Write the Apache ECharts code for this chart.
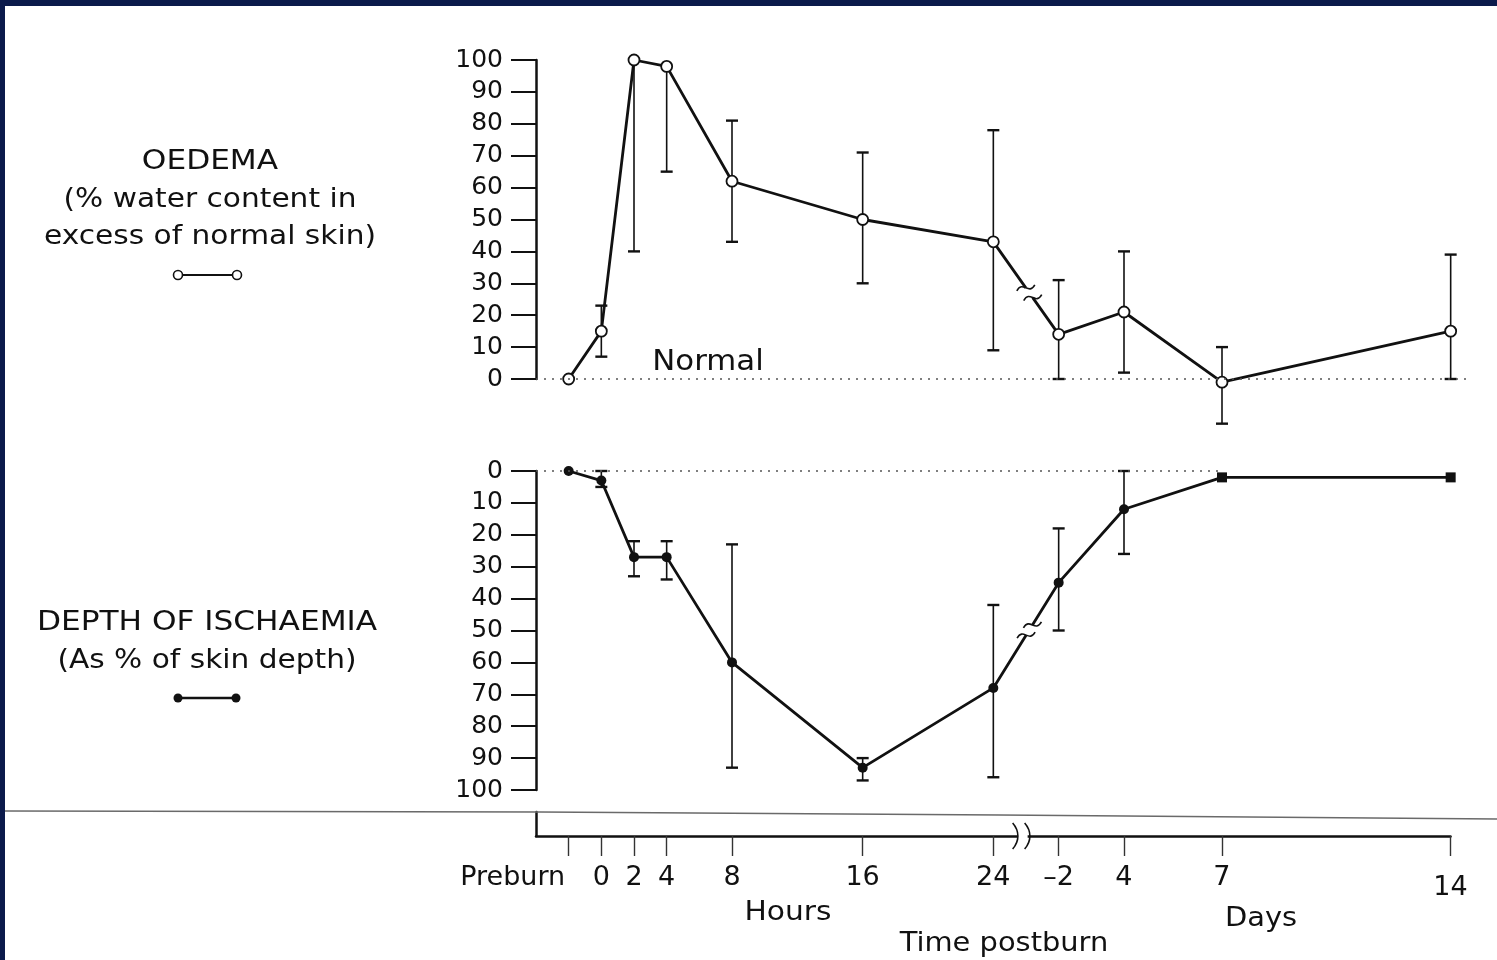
<!DOCTYPE html>
<html>
<head>
<meta charset="utf-8">
<title>Oedema and depth of ischaemia after burn</title>
<script src="https://cdn.jsdelivr.net/npm/echarts/dist/echarts.min.js"></script>
<style>
  html, body { margin: 0; padding: 0; background: #ffffff; }
  #chart { width: 1497px; height: 960px; }
  .frame-left { position: absolute; left: 0; top: 0; width: 5px; height: 960px; background: #0b1a4b; }
  .frame-top { position: absolute; left: 0; top: 0; width: 1497px; height: 6px; background: #0b1a4b; }
</style>
</head>
<body>
<div id="chart"></div>
<div class="frame-left"></div>
<div class="frame-top"></div>
<script>
// Sampling times: hours after the burn (Preburn drawn at -2 h), then days.
const HOURS = [-2, 0, 2, 4, 8, 16, 24];
const DAYS = [2, 4, 7, 14];
const TIME_LABELS = ['Preburn', '0', '2', '4', '8', '16', '24', '–2', '4', '7', '14'];

// Oedema: % water content in excess of normal skin (mean and range)
const OEDEMA_MEAN = [0, 15, 100, 98, 62, 50, 43, 14, 21, -1, 15];
const OEDEMA_LOW  = [null, 7, 40, 65, 43, 30, 9, 0, 2, -14, 0];
const OEDEMA_HIGH = [null, 23, 100, 98, 81, 71, 78, 31, 40, 10, 39];

// Depth of ischaemia as % of skin depth (mean and range)
const ISCH_MEAN = [0, 3, 27, 27, 60, 93, 68, 35, 12, 2, 2];
const ISCH_LOW  = [null, 0, 22, 22, 23, 90, 42, 18, 0, null, null];
const ISCH_HIGH = [null, 5, 33, 34, 93, 97, 96, 50, 26, null, null];

// Broken time axis: the day section continues after the 24 h mark
const DAY_OFFSET = 24;
const DAY_SCALE = 2;
const TIME_POS = HOURS.concat(DAYS.map(d => DAY_OFFSET + DAY_SCALE * d));

const INK = '#111111';
const FONT = 'DejaVu Sans';

const oedemaData = TIME_POS.map((t, i) => [t, OEDEMA_MEAN[i]]);
const ischData = TIME_POS.map((t, i) => {
  const item = { value: [t, ISCH_MEAN[i]] };
  if (ISCH_LOW[i] === null && i > 0) { item.symbol = 'rect'; item.symbolSize = 10; }
  return item;
});
function barData(low, high, mean) {
  const out = [];
  TIME_POS.forEach((t, i) => {
    if (low[i] !== null) out.push([t, low[i], high[i], mean[i]]);
  });
  return out;
}

function renderErrorBar(params, api) {
  const x = api.value(0), lo = api.value(1), hi = api.value(2), m = api.value(3);
  const pLo = api.coord([x, lo]);
  const pHi = api.coord([x, hi]);
  const children = [{
    type: 'line',
    shape: { x1: pLo[0], y1: pLo[1], x2: pHi[0], y2: pHi[1] },
    style: { stroke: INK, lineWidth: 1.6 }
  }];
  const half = 6;
  [[lo, pLo], [hi, pHi]].forEach(([v, p]) => {
    if (v !== m) {
      children.push({
        type: 'line',
        shape: { x1: p[0] - half, y1: p[1], x2: p[0] + half, y2: p[1] },
        style: { stroke: INK, lineWidth: 2.4 }
      });
    }
  });
  return { type: 'group', children };
}

const yAxisCommon = {
  min: 0, max: 100, interval: 10,
  axisLine: { show: true, onZero: false, lineStyle: { color: INK, width: 2.5 } },
  axisTick: { show: true, length: 25, lineStyle: { color: INK, width: 2 } },
  axisLabel: { margin: 33, fontSize: 25, color: INK, fontFamily: FONT },
  splitLine: { show: false }
};

const option = {
  animation: false,
  backgroundColor: '#ffffff',
  textStyle: { fontFamily: FONT },
  grid: [
    { left: 536, top: 60, width: 931, height: 319 },
    { left: 536, top: 471, width: 931, height: 319 },
    { left: 536, top: 812, width: 914.5, height: 24 }
  ],
  xAxis: [
    { gridIndex: 0, type: 'value', min: -4, max: 53, show: false },
    { gridIndex: 1, type: 'value', min: -4, max: 53, show: false },
    {
      gridIndex: 2, type: 'value', min: -4, max: 52, position: 'bottom',
      axisLine: { show: true, onZero: false, lineStyle: { color: INK, width: 2.5 } },
      axisTick: { show: true, customValues: TIME_POS, length: 20, lineStyle: { color: '#333', width: 1.4 } },
      axisLabel: {
        show: true, customValues: TIME_POS, margin: 28, fontSize: 27, color: INK, fontFamily: FONT,
        formatter: function (v) {
          const i = TIME_POS.indexOf(v);
          if (i < 0) return '';
          if (i === 0) return '{pre|' + TIME_LABELS[i] + '}';
          if (i === TIME_POS.length - 1) return '{low|' + TIME_LABELS[i] + '}';
          return TIME_LABELS[i];
        },
        rich: {
          pre: { fontSize: 27, fontFamily: FONT, color: INK, padding: [0, 112, 0, 0] },
          low: { fontSize: 27, fontFamily: FONT, color: INK, padding: [10, 0, 0, 0] }
        }
      },
      splitLine: { show: false }
    }
  ],
  yAxis: [
    Object.assign({ gridIndex: 0 }, yAxisCommon),
    Object.assign({ gridIndex: 1, inverse: true }, yAxisCommon),
    {
      gridIndex: 2, type: 'value', min: 0, max: 1,
      axisLine: { show: true, onZero: false, lineStyle: { color: INK, width: 2.5 } },
      axisTick: { show: false }, axisLabel: { show: false }, splitLine: { show: false }
    }
  ],
  series: [
    {
      name: 'Oedema', type: 'line', xAxisIndex: 0, yAxisIndex: 0, clip: false, z: 3,
      data: oedemaData,
      symbol: 'circle', symbolSize: 11,
      lineStyle: { color: INK, width: 2.8 },
      itemStyle: { color: '#ffffff', borderColor: INK, borderWidth: 1.8 },
      markLine: {
        silent: true, symbol: 'none', label: { show: false },
        lineStyle: { color: '#555', width: 1.6, type: [2, 6] },
        data: [{ yAxis: 0 }]
      }
    },
    {
      name: 'Oedema range', type: 'custom', xAxisIndex: 0, yAxisIndex: 0, clip: false, z: 2,
      renderItem: renderErrorBar,
      data: barData(OEDEMA_LOW, OEDEMA_HIGH, OEDEMA_MEAN)
    },
    {
      name: 'Depth of ischaemia', type: 'line', xAxisIndex: 1, yAxisIndex: 1, clip: false, z: 3,
      data: ischData,
      symbol: 'circle', symbolSize: 10,
      lineStyle: { color: INK, width: 2.8 },
      itemStyle: { color: INK },
      markLine: {
        silent: true, symbol: 'none', label: { show: false },
        lineStyle: { color: '#555', width: 1.6, type: [2, 6] },
        data: [[{ coord: [-4, 0] }, { coord: [DAY_OFFSET + DAY_SCALE * 7, 0] }]]
      }
    },
    {
      name: 'Ischaemia range', type: 'custom', xAxisIndex: 1, yAxisIndex: 1, clip: false, z: 2,
      renderItem: renderErrorBar,
      data: barData(ISCH_LOW, ISCH_HIGH, ISCH_MEAN)
    }
  ]
};

const chart = echarts.init(document.getElementById('chart'), null, { renderer: 'canvas' });
chart.setOption(option);

function label(id, text, x, y, size, sx) {
  return {
    type: 'text', id: id, x: x, y: y, scaleX: sx || 1, z: 50,
    style: {
      text: text, x: 0, y: 0, fill: INK,
      font: size + 'px "' + FONT + '"',
      textAlign: 'center', textVerticalAlign: 'middle',
      align: 'center', verticalAlign: 'middle'
    }
  };
}

// Two small wavy strokes marking where a data line crosses the axis break
function lineBreak(id, gridIndex, a, b, t) {
  const p1 = chart.convertToPixel({ gridIndex: gridIndex }, a);
  const p2 = chart.convertToPixel({ gridIndex: gridIndex }, b);
  const mx = p1[0] + (p2[0] - p1[0]) * t;
  const my = p1[1] + (p2[1] - p1[1]) * t;
  const len = Math.hypot(p2[0] - p1[0], p2[1] - p1[1]);
  const ux = (p2[0] - p1[0]) / len, uy = (p2[1] - p1[1]) / len;
  const nx = -uy, ny = ux;
  const g = 6;
  const gap = {
    type: 'polygon', z: 100,
    shape: { points: [
      [mx - ux * g + nx * 6, my - uy * g + ny * 6],
      [mx + ux * g + nx * 6, my + uy * g + ny * 6],
      [mx + ux * g - nx * 6, my + uy * g - ny * 6],
      [mx - ux * g - nx * 6, my - uy * g - ny * 6]
    ] },
    style: { fill: '#ffffff' }
  };
  const waves = [-1, 1].map(s => {
    const cx = mx + ux * g * s, cy = my + uy * g * s;
    return {
      type: 'bezierCurve', z: 101,
      shape: { x1: cx - 9, y1: cy + 3, cpx1: cx - 3, cpy1: cy - 8, cpx2: cx + 3, cpy2: cy + 8, x2: cx + 9, y2: cy - 3 },
      style: { stroke: INK, lineWidth: 1.6, fill: null }
    };
  });
  return { type: 'group', id: id, children: [gap].concat(waves) };
}

function axisBreak(id, pos) {
  const p = chart.convertToPixel({ gridIndex: 2 }, [pos, 0]);
  const x = p[0], y = p[1];
  const arcs = [-6, 6].map(dx => ({
    type: 'bezierCurve', z: 101,
    shape: { x1: x + dx - 4, y1: y - 13, cpx1: x + dx + 3, cpy1: y - 5, cpx2: x + dx + 3, cpy2: y + 5, x2: x + dx - 4, y2: y + 13 },
    style: { stroke: INK, lineWidth: 1.6, fill: null }
  }));
  return {
    type: 'group', id: id,
    children: [{ type: 'rect', z: 100, shape: { x: x - 5, y: y - 4, width: 10, height: 8 }, style: { fill: '#ffffff' } }].concat(arcs)
  };
}

const i24 = HOURS.length - 1;
const graphics = [
  label('t1', 'OEDEMA', 210, 162, 26, 1.2),
  label('t2', '(% water content in', 210, 200, 26, 1.14),
  label('t3', 'excess of normal skin)', 210, 237, 26, 1.14),
  label('t4', 'DEPTH OF ISCHAEMIA', 207, 623, 26, 1.2),
  label('t5', '(As % of skin depth)', 207, 661, 26, 1.14),
  label('t6', 'Normal', 708, 363, 28, 1.1),
  label('t7', 'Hours', 788, 913, 27, 1.1),
  label('t8', 'Days', 1261, 919, 27, 1.07),
  label('t9', 'Time postburn', 1004, 944, 27, 1.07),
  // legend glyphs
  { type: 'line', id: 'k1', z: 50, shape: { x1: 178, y1: 275, x2: 237, y2: 275 }, style: { stroke: INK, lineWidth: 2.2 } },
  { type: 'circle', id: 'k2', z: 51, shape: { cx: 178, cy: 275, r: 4.5 }, style: { fill: '#fff', stroke: INK, lineWidth: 1.6 } },
  { type: 'circle', id: 'k3', z: 51, shape: { cx: 237, cy: 275, r: 4.5 }, style: { fill: '#fff', stroke: INK, lineWidth: 1.6 } },
  { type: 'line', id: 'k4', z: 50, shape: { x1: 178, y1: 698, x2: 236, y2: 698 }, style: { stroke: INK, lineWidth: 2.6 } },
  { type: 'circle', id: 'k5', z: 51, shape: { cx: 178, cy: 698, r: 4.5 }, style: { fill: INK } },
  { type: 'circle', id: 'k6', z: 51, shape: { cx: 236, cy: 698, r: 4.5 }, style: { fill: INK } },
  // page rule above the time axis
  { type: 'polyline', id: 'rule', z: 1, shape: { points: [[5, 811], [540, 812], [1000, 815], [1497, 819]] }, style: { stroke: '#6a6a6a', lineWidth: 1.5, fill: null } },
  lineBreak('b1', 0, [TIME_POS[i24], OEDEMA_MEAN[i24]], [TIME_POS[i24 + 1], OEDEMA_MEAN[i24 + 1]], 0.55),
  lineBreak('b2', 1, [TIME_POS[i24], ISCH_MEAN[i24]], [TIME_POS[i24 + 1], ISCH_MEAN[i24 + 1]], 0.55),
  axisBreak('b3', 25.8)
];
chart.setOption({ graphic: graphics });
</script>
</body>
</html>
